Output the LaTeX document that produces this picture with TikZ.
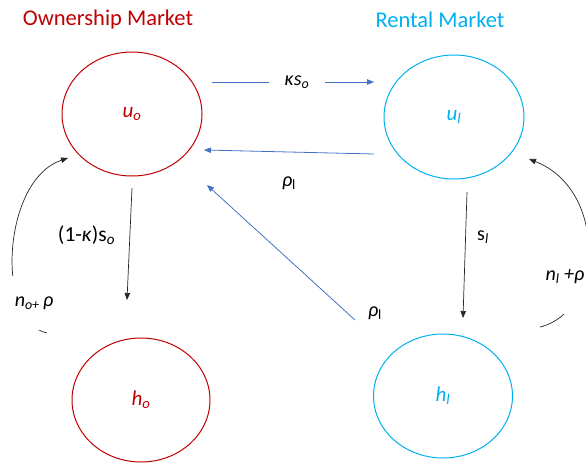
\documentclass[tikz,border=0pt]{standalone}
\usepackage{fontspec}
\setmainfont{Carlito}
\usetikzlibrary{arrows.meta,shapes.geometric}
\definecolor{ownred}{HTML}{C00000}
\definecolor{rentcyan}{HTML}{00B0F0}
\definecolor{flowblue}{HTML}{4472C4}
\definecolor{flowblack}{HTML}{262626}
\begin{document}
\begin{tikzpicture}[x=1pt,y=-1pt,
  title/.style={font=\fontsize{22.5}{26}\selectfont, inner sep=0pt},
  state/.style={ellipse, draw, line width=1pt, minimum width=140pt, minimum height=124pt,
    inner sep=0pt, font=\fontsize{21}{24}\selectfont\itshape},
  blueflow/.style={draw=flowblue, line width=0.8pt, -{Triangle[length=7pt,width=5.5pt]}},
  blackflow/.style={draw=flowblack, line width=0.7pt, -{Triangle[length=7pt,width=5.5pt]}},
  lbl/.style={font=\fontsize{20}{23}\selectfont, inner sep=1pt, text=black},
]
\useasboundingbox (0,0) rectangle (586,463);

% titles
\node[title, text=ownred] (tO) at (108,20) {Ownership Market};
\node[title, text=rentcyan] (tR) at (440,20) {Rental Market};

% states
\node[state, draw=ownred, text=ownred] (uo) at (132,114) {u\textsubscript{o}};
\node[state, draw=rentcyan, text=rentcyan] (ul) at (454,117) {u\textsubscript{l}};
\node[state, draw=ownred, text=ownred, minimum width=138pt] (ho) at (141,400) {h\textsubscript{o}};
\node[state, draw=rentcyan, text=rentcyan, minimum width=139pt] (hl) at (443,396) {h\textsubscript{l}};

% kappa s_o : u_o -> u_l
\draw[blueflow] ([shift={(80,-32)}]uo.center) --
  node[lbl, fill=white, inner xsep=16pt, xshift=4pt] (lk) {\textit{κs\textsubscript{o}}}
  ([shift={(-80,-35)}]ul.center);

% rho_l : u_l -> u_o
\draw[blueflow] ([shift={(-80,37)}]ul.center) --
  node[lbl, yshift=-31pt] (lr1) {\textit{ρ}\textsubscript{l}}
  ([shift={(72,36)}]uo.center);

% rho_l : h_l -> u_o
\draw[blueflow] ([shift={(-88,-76)}]hl.center) --
  node[lbl, at start, xshift=20pt, yshift=7pt] (lr2) {\textit{ρ}\textsubscript{l}}
  ([shift={(75,71)}]uo.center);

% (1-kappa)s_o : u_o -> h_o
\draw[blackflow] ([shift={(0,74)}]uo.center) --
  node[lbl, font=\fontsize{21.5}{24}\selectfont, xshift=-43pt, yshift=9pt] (lks) {(1-\textit{κ})s\textsubscript{\textit{o}}}
  ([shift={(-14,-100)}]ho.center);

% s_l : u_l -> h_l
\draw[blackflow] ([shift={(13,75)}]ul.center) --
  node[lbl, xshift=18pt, yshift=18pt] (ls) {s\textsubscript{\textit{l}}}
  ([shift={(20,-78)}]hl.center);

% n_o + rho : h_o -> u_o
\draw[blackflow] ([shift={(-94,-67)}]ho.center) .. controls (-5,322) and (2,180) ..
  ([shift={(-64,44)}]uo.center);
\node[lbl, fill=white, minimum height=54pt, inner xsep=3pt] (lno) at (34,303)
  {\textit{n\textsubscript{o+}\,ρ}};

% n_l + rho : h_l -> u_l
\draw[blackflow] ([shift={(97,-69)}]hl.center) .. controls (603,312) and (608,190) ..
  ([shift={(75,42)}]ul.center);
\node[lbl, fill=white, minimum height=74pt, inner xsep=3pt] (lnl) at (565,277)
  {\textit{n\textsubscript{l} +ρ}};
\end{tikzpicture}
\end{document}
